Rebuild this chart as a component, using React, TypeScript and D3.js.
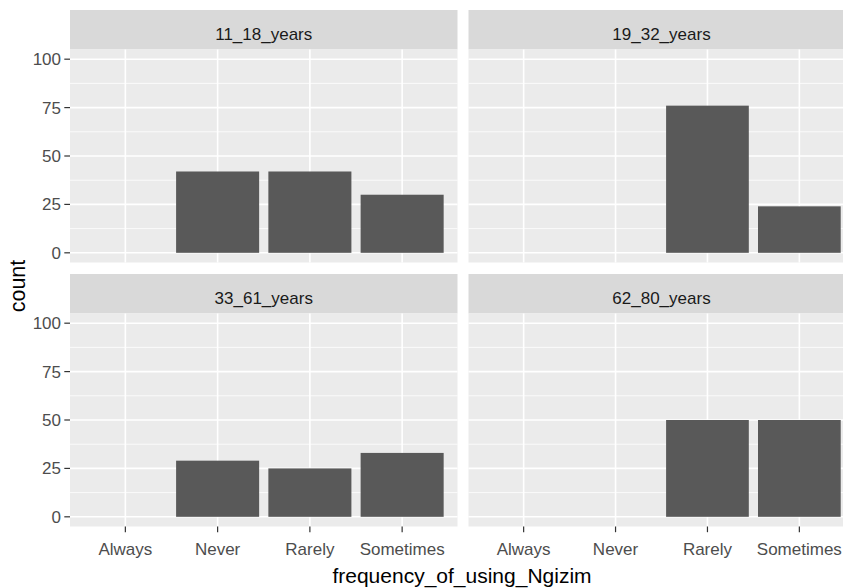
import React from "react";
import * as d3 from "d3";

const categories = ["Always", "Never", "Rarely", "Sometimes"];
const facetNames = ["11_18_years", "19_32_years", "33_61_years", "62_80_years"];
const counts11_18 = [0, 42, 42, 30];
const counts19_32 = [0, 0, 76, 24];
const counts33_61 = [0, 29, 25, 33];
const counts62_80 = [0, 0, 50, 50];
const yTicks = [0, 25, 50, 75, 100];
const yMinor = [12.5, 37.5, 62.5, 87.5];
const xTitle = "frequency_of_using_Ngizim";
const yTitle = "count";

const W = 843;
const H = 588;
const cols = [
  [70, 457.5],
  [468.5, 854.5],
];
const rows = [
  { stripTop: 10, panelTop: 49.5, panelBottom: 262.5 },
  { stripTop: 274, panelTop: 313.5, panelBottom: 526.5 },
];

const FONT = "'Liberation Sans', Arial, Helvetica, sans-serif";

export default function App() {
  const facetData = [counts11_18, counts19_32, counts33_61, counts62_80];
  const panels = facetNames.map((name, i) => {
    const col = cols[i % 2];
    const row = rows[Math.floor(i / 2)];
    const x = d3.scalePoint<string>().domain(categories).range(col as [number, number]).padding(0.6);
    const y = d3.scaleLinear().domain([-5, 105]).range([row.panelBottom, row.panelTop]);
    return { name, col, row, x, y, values: facetData[i], i };
  });

  return (
    <svg
      width={W}
      height={H}
      style={{ position: "absolute", left: 0, top: 0, background: "#fff" }}
      fontFamily={FONT}
    >
      <rect x={0} y={0} width={W} height={H} fill="#fff" />
      {panels.map((p) => {
        const [x0, x1] = p.col;
        const bw = p.x.step() * 0.9;
        return (
          <g key={p.name}>
            <rect x={x0} y={p.row.stripTop} width={x1 - x0} height={p.row.panelTop - p.row.stripTop} fill="#D9D9D9" />
            <text
              x={(x0 + x1) / 2}
              y={p.row.stripTop + 29.5}
              textAnchor="middle"
              fontSize={17}
              fill="#1A1A1A"
            >
              {p.name}
            </text>
            <rect x={x0} y={p.row.panelTop} width={x1 - x0} height={p.row.panelBottom - p.row.panelTop} fill="#EBEBEB" />
            {yMinor.map((t) => (
              <line key={"mi" + t} x1={x0} x2={x1} y1={p.y(t)} y2={p.y(t)} stroke="#fff" strokeWidth={0.8} />
            ))}
            {yTicks.map((t) => (
              <line key={"ma" + t} x1={x0} x2={x1} y1={p.y(t)} y2={p.y(t)} stroke="#fff" strokeWidth={1.6} />
            ))}
            {categories.map((c) => (
              <line key={"v" + c} x1={p.x(c)} x2={p.x(c)} y1={p.row.panelTop} y2={p.row.panelBottom} stroke="#fff" strokeWidth={1.6} />
            ))}
            {categories.map((c, k) =>
              p.values[k] > 0 ? (
                <rect
                  key={"b" + c}
                  x={(p.x(c) as number) - bw / 2}
                  y={p.y(p.values[k])}
                  width={bw}
                  height={p.y(0) - p.y(p.values[k])}
                  fill="#595959"
                />
              ) : null
            )}
            {p.i % 2 === 0 &&
              yTicks.map((t) => (
                <g key={"yt" + t}>
                  <line x1={x0 - 5.7} x2={x0} y1={p.y(t)} y2={p.y(t)} stroke="#333" strokeWidth={1.2} />
                  <text x={x0 - 9} y={p.y(t)} dy="0.35em" textAnchor="end" fontSize={17} fill="#4D4D4D">
                    {t}
                  </text>
                </g>
              ))}
            {p.i >= 2 &&
              categories.map((c) => (
                <g key={"xt" + c}>
                  <line x1={p.x(c)} x2={p.x(c)} y1={p.row.panelBottom} y2={p.row.panelBottom + 5.7} stroke="#333" strokeWidth={1.2} />
                  <text x={p.x(c)} y={555} textAnchor="middle" fontSize={17} fill="#4D4D4D">
                    {c}
                  </text>
                </g>
              ))}
          </g>
        );
      })}
      <text x={462} y={582.5} textAnchor="middle" fontSize={21} fill="#000">
        {xTitle}
      </text>
      <text transform="translate(25,286) rotate(-90)" textAnchor="middle" fontSize={21.5} fill="#000">
        {yTitle}
      </text>
    </svg>
  );
}
